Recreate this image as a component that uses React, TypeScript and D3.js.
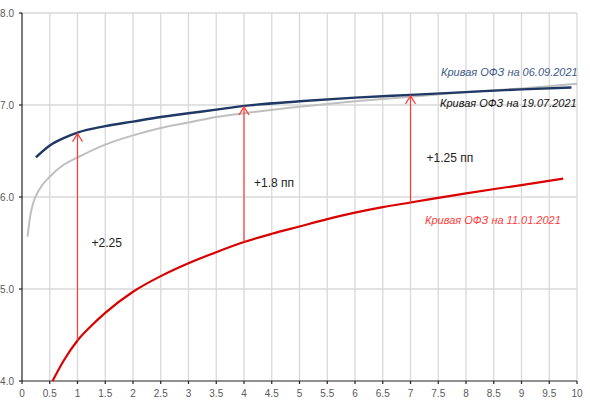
import React from 'react';
import * as d3 from 'd3';

// curve 06.09.2021
const sepX = [0.25, 0.5, 0.75, 1, 1.5, 2, 2.5, 3, 3.5, 4, 5, 6, 7, 8, 9, 9.9];
const sepY = [6.43, 6.56, 6.64, 6.7, 6.77, 6.82, 6.87, 6.91, 6.95, 6.99, 7.04, 7.08, 7.11, 7.14, 7.17, 7.19];

// curve 19.07.2021
const julX = [0.1, 0.15, 0.2, 0.3, 0.5, 0.75, 1, 1.5, 2, 2.5, 3, 3.5, 4, 5, 6, 7, 8, 9, 10];
const julY = [5.57, 5.8, 5.93, 6.07, 6.22, 6.35, 6.43, 6.57, 6.67, 6.75, 6.81, 6.87, 6.91, 6.98, 7.04, 7.09, 7.14, 7.18, 7.23];

// curve 11.01.2021
const janX = [0.55, 0.75, 1, 1.25, 1.5, 2, 2.5, 3, 3.5, 4, 4.5, 5, 5.5, 6, 6.5, 7, 8, 9, 9.75];
const janY = [4.0, 4.22, 4.44, 4.6, 4.74, 4.97, 5.14, 5.28, 5.4, 5.51, 5.6, 5.68, 5.76, 5.83, 5.89, 5.94, 6.04, 6.13, 6.2];

// spread arrows
const arrowX = [1, 4, 7];
const arrowFrom = [4.44, 5.51, 5.94];
const arrowTo = [6.7, 6.99, 7.11];
const arrowLabels = ['+2.25', '+1.8 пп', '+1.25 пп'];

const xTicks = d3.range(0, 10.01, 0.5);
const yTicks = [4, 5, 6, 7, 8];

const W = 590;
const H = 401;

const App: React.FC = () => {
  const x = d3.scaleLinear().domain([0, 10]).range([22, 577]);
  const y = d3.scaleLinear().domain([4, 8]).range([381, 13]);

  const line = d3.line<[number, number]>()
    .x(d => x(d[0]))
    .y(d => y(d[1]))
    .curve(d3.curveMonotoneX);

  const zip = (xs: number[], ys: number[]) => xs.map((v, i) => [v, ys[i]] as [number, number]);

  const labelPos = [
    { dx: 14, y: 5.5 },
    { dx: 10, y: 6.15 },
    { dx: 16, y: 6.43 },
  ];

  return (
    <svg width={W} height={H} style={{ position: 'absolute', left: 0, top: 0, background: '#fff' }}
      fontFamily="'Liberation Sans', Arial, sans-serif">
      {/* grid */}
      <g stroke="#d9d9d9" strokeWidth={1.3}>
        {xTicks.filter(t => t > 0).map(t => (
          <line key={'vx' + t} x1={x(t)} x2={x(t)} y1={y(8)} y2={y(4)} />
        ))}
        {yTicks.filter(t => t > 4).map(t => (
          <line key={'hy' + t} x1={x(0)} x2={x(10)} y1={y(t)} y2={y(t)} />
        ))}
      </g>

      {/* axes */}
      <g stroke="#222" strokeWidth={1.2}>
        <line x1={x(0)} x2={x(0)} y1={y(8)} y2={y(4)} />
        <line x1={x(0)} x2={x(10)} y1={y(4)} y2={y(4)} />
        {yTicks.map(t => (
          <line key={'yt' + t} x1={x(0) - 3} x2={x(0)} y1={y(t)} y2={y(t)} />
        ))}
        {xTicks.map(t => (
          <line key={'xt' + t} x1={x(t)} x2={x(t)} y1={y(4)} y2={y(4) + 3} />
        ))}
      </g>
      <g fill="#595959" fontSize={10}>
        {yTicks.map(t => (
          <text key={'yl' + t} x={x(0) - 8} y={y(t)} dy="0.35em" textAnchor="end">{t.toFixed(1)}</text>
        ))}
        {xTicks.map(t => (
          <text key={'xl' + t} x={x(t)} y={397} textAnchor="middle">{String(t)}</text>
        ))}
      </g>

      {/* curves */}
      <path d={line(zip(julX, julY)) || ''} fill="none" stroke="#bfbfbf" strokeWidth={2} />
      <path d={line(zip(janX, janY)) || ''} fill="none" stroke="#d90000" strokeWidth={2.2} />
      <path d={line(zip(sepX, sepY)) || ''} fill="none" stroke="#1f3864" strokeWidth={2.4} />

      {/* arrows */}
      <g stroke="#ff3b3b" strokeWidth={1.2} fill="none">
        {arrowX.map((ax, i) => {
          const px = x(ax);
          const top = y(arrowTo[i]);
          return (
            <g key={'ar' + ax}>
              <line x1={px} x2={px} y1={y(arrowFrom[i])} y2={top} />
              <path d={`M${px - 5},${top + 9}L${px},${top + 1}L${px + 5},${top + 9}`} />
            </g>
          );
        })}
      </g>
      <g fill="#222" fontSize={12}>
        {arrowX.map((ax, i) => (
          <text key={'al' + ax} x={x(ax) + labelPos[i].dx} y={y(labelPos[i].y)} dy="0.35em">{arrowLabels[i]}</text>
        ))}
      </g>

      {/* curve labels */}
      <g fontSize={11} fontStyle="italic">
        <text x={441} y={76} fill="#3d5a8a">Кривая ОФЗ на 06.09.2021</text>
        <text x={440} y={107} fill="#111">Кривая ОФЗ на 19.07.2021</text>
        <text x={425} y={224} fill="#ff3b3b">Кривая ОФЗ на 11.01.2021</text>
      </g>
    </svg>
  );
};

export default App;
